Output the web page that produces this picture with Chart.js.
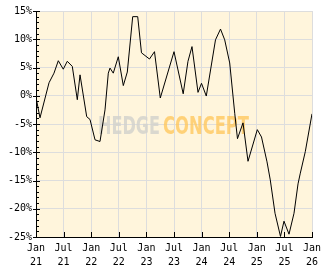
<!DOCTYPE html>
<html>
<head>
<meta charset="utf-8">
<script src="https://cdn.jsdelivr.net/npm/chart.js@4"></script>
<style>
  html, body { margin: 0; padding: 0; background: #fff; }
  #wrap { width: 332px; height: 269px; }
</style>
</head>
<body>
<div id="wrap"><canvas id="perfChart" width="332" height="269"></canvas></div>
<script>
// months since Jan 2021 and performance in %
const months = [0, 0.87, 2.83, 3.91, 4.85, 5.93, 6.8, 7.89, 8.98, 9.57, 11.02, 11.74, 12.83, 13.91, 15, 15.72, 16.09, 16.8, 17.89, 18.98,
  19.85, 21.02, 22.11, 22.93, 24.67, 25.76, 27.02, 30, 32, 33.04, 33.91, 35.22, 35.98, 37.02, 39.02, 40.11, 41.02, 42.11, 43.2, 43.8,
  45, 46.09, 48.11, 49.02, 50.22, 50.93, 51.96, 53.15, 53.91, 55, 56.09, 56.96, 57.46, 58.54, 60];
const returns = [-0.3, -3.9, 2.3, 4.0, 6.2, 4.7, 6.1, 5.2, -0.7, 3.7, -3.7, -4.2, -7.8, -8.1, -2.5, 4.0, 4.9, 4.0, 6.9, 1.8,
  4.2, 14.0, 14.0, 7.6, 6.5, 7.8, -0.4, 7.8, 0.35, 6.1, 8.7, 0.6, 2.2, -0.05, 9.9, 11.8, 9.9, 5.8, -3.1, -7.6,
  -4.8, -11.6, -6.0, -7.3, -11.7, -14.9, -20.8, -24.9, -22.2, -24.5, -20.8, -15.6, -13.7, -9.9, -3.2];
const monthNames = ['Jan', 'Jul'];
const startYear = 21;
const yTicks = [-25, -20, -15, -10, -5, 0, 5, 10, 15];

const points = months.map((m, i) => ({ x: m, y: returns[i] }));

// background, watermark and inner tick marks
const decor = {
  id: 'decor',
  beforeDraw(chart) {
    const { ctx, chartArea: a } = chart;
    ctx.save();
    ctx.fillStyle = '#fff5dc';
    ctx.fillRect(a.left, a.top, a.right - a.left, a.bottom - a.top);
    ctx.restore();
  },
  beforeDatasetsDraw(chart) {
    const ctx = chart.ctx;
    ctx.save();
    ctx.font = 'bold 25px "Liberation Sans Narrow", "DejaVu Sans Condensed", sans-serif';
    ctx.textBaseline = 'alphabetic';
    const parts = [['HEDGE', 98, 62, 'rgba(212,210,205,0.85)'], ['CONCEPT', 163, 86, 'rgba(255,200,95,0.8)']];
    parts.forEach(([t, x, w, c]) => {
      const mw = ctx.measureText(t).width;
      ctx.save();
      ctx.translate(x, 134);
      ctx.scale(w / mw, 1);
      ctx.fillStyle = c;
      ctx.fillText(t, 0, 0);
      ctx.restore();
    });
    ctx.restore();
  },
  afterDatasetsDraw(chart) {
    const { ctx, chartArea: a, scales } = chart;
    ctx.save();
    ctx.strokeStyle = '#000';
    ctx.lineWidth = 1;
    ctx.beginPath();
    for (let v = -25; v <= 15; v++) {
      const y = Math.round(scales.y.getPixelForValue(v)) + 0.5;
      const major = v % 5 === 0;
      ctx.moveTo(a.left - (major ? 3 : 0), y);
      ctx.lineTo(a.left + (major ? 4 : 3), y);
    }
    for (let m = 0; m <= 60; m += 6) {
      const x = Math.round(scales.x.getPixelForValue(m)) + 0.5;
      ctx.moveTo(x, a.bottom);
      ctx.lineTo(x, a.bottom - 5);
    }
    ctx.stroke();
    ctx.restore();
  }
};

new Chart(document.getElementById('perfChart'), {
  type: 'line',
  data: {
    datasets: [{
      data: points,
      borderColor: '#000',
      borderWidth: 1,
      pointRadius: 0,
      tension: 0,
      fill: false
    }]
  },
  options: {
    responsive: false,
    animation: false,
    devicePixelRatio: 1,
    layout: { padding: { top: 11, right: 20, left: 0, bottom: 0 } },
    plugins: { legend: { display: false }, tooltip: { enabled: false } },
    scales: {
      x: {
        type: 'linear',
        min: 0,
        max: 60,
        afterFit: s => { s.height = 32; },
        ticks: {
          stepSize: 6,
          autoSkip: false,
          maxRotation: 0,
          padding: 5,
          color: '#000',
          font: { family: 'DejaVu Sans Mono', size: 10, lineHeight: 1.35 },
          callback: v => [monthNames[(v / 6) % 2], String(startYear + Math.floor(v / 12))]
        },
        grid: { color: '#dddddd', drawTicks: false },
        border: { color: '#000' }
      },
      y: {
        min: -25,
        max: 15,
        afterFit: s => { s.width = 36; },
        afterBuildTicks: s => { s.ticks = yTicks.map(v => ({ value: v })); },
        ticks: {
          padding: 4,
          color: '#000',
          font: { family: 'DejaVu Sans Mono', size: 10 },
          callback: v => v + '%'
        },
        grid: { color: '#dddddd', drawTicks: false },
        border: { color: '#000' }
      }
    }
  },
  plugins: [decor]
});
</script>
</body>
</html>
